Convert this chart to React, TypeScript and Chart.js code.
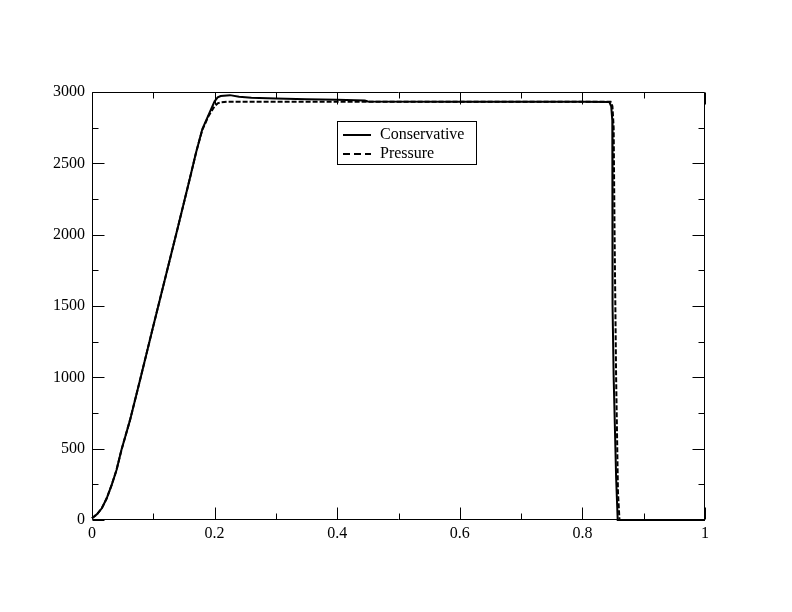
import React, { useEffect, useRef } from "react";
import { Chart, registerables } from "chart.js";

Chart.register(...registerables);

const consX = [0, 0.008, 0.016, 0.024, 0.032, 0.04, 0.048, 0.062, 0.08, 0.1, 0.12, 0.14, 0.16, 0.17, 0.18, 0.1925, 0.2, 0.205, 0.21, 0.225, 0.24, 0.26, 0.3, 0.35, 0.4, 0.445, 0.45, 0.6, 0.8, 0.844, 0.847, 0.8488, 0.8492, 0.851, 0.855, 0.8576, 0.9, 1];
const consY = [12, 40, 82, 152, 245, 350, 490, 700, 1010, 1360, 1705, 2050, 2400, 2580, 2740, 2862, 2935, 2962, 2972, 2978, 2967, 2960, 2955, 2950, 2945, 2940, 2933, 2932, 2932, 2930, 2900, 2800, 1500, 1000, 300, 0, 0, 0];

const presX = [0, 0.008, 0.016, 0.024, 0.032, 0.04, 0.048, 0.062, 0.08, 0.1, 0.12, 0.14, 0.16, 0.17, 0.18, 0.19, 0.2, 0.205, 0.21, 0.22, 0.4, 0.6, 0.8, 0.846, 0.849, 0.851, 0.8525, 0.855, 0.858, 0.8605, 0.9, 1];
const presY = [12, 40, 82, 152, 245, 350, 490, 700, 1010, 1360, 1705, 2050, 2400, 2580, 2735, 2830, 2900, 2920, 2928, 2932, 2932, 2932, 2932, 2932, 2900, 2750, 2000, 1000, 200, 0, 0, 0];

const seriesNames = ["Conservative", "Pressure"];
const xTicks = [0, 0.2, 0.4, 0.6, 0.8, 1];
const yTicks = [0, 500, 1000, 1500, 2000, 2500, 3000];

const FONT = "'Liberation Serif', 'Times New Roman', serif";

const framePlugin = {
  id: "frame",
  afterDraw(chart: any) {
    const { ctx, chartArea } = chart;
    const xs = chart.scales.x;
    const ys = chart.scales.y;
    const L = Math.round(chartArea.left) + 0.5;
    const R = Math.round(chartArea.right) - 0.5;
    const T = Math.round(chartArea.top) + 0.5;
    const B = Math.round(chartArea.bottom) - 0.5;
    ctx.save();
    ctx.strokeStyle = "#000";
    ctx.lineWidth = 1;
    ctx.setLineDash([]);
    ctx.beginPath();
    ctx.rect(L, T, R - L, B - T);
    for (let i = 0; i <= 10; i++) {
      const v = i / 10;
      const px = Math.round(xs.getPixelForValue(v)) + 0.5;
      const len = i % 2 === 0 ? 12 : 6;
      ctx.moveTo(px, B);
      ctx.lineTo(px, B - len);
      ctx.moveTo(px, T);
      ctx.lineTo(px, T + len);
    }
    for (let i = 0; i <= 12; i++) {
      const v = i * 250;
      const py = Math.round(ys.getPixelForValue(v)) + 0.5;
      const len = i % 2 === 0 ? 12 : 6;
      ctx.moveTo(L, py);
      ctx.lineTo(L + len, py);
      ctx.moveTo(R, py);
      ctx.lineTo(R - len, py);
    }
    ctx.stroke();

    // legend
    const bx = 337.5, by = 121.5, bw = 139, bh = 43;
    ctx.fillStyle = "#fff";
    ctx.fillRect(bx, by, bw, bh);
    ctx.strokeRect(bx, by, bw, bh);
    ctx.lineWidth = 2;
    ctx.beginPath();
    ctx.moveTo(343, 135);
    ctx.lineTo(371, 135);
    ctx.stroke();
    ctx.setLineDash([7, 4]);
    ctx.beginPath();
    ctx.moveTo(343, 154);
    ctx.lineTo(371, 154);
    ctx.stroke();
    ctx.setLineDash([]);
    ctx.fillStyle = "#000";
    ctx.font = "16px " + FONT;
    ctx.textBaseline = "middle";
    ctx.textAlign = "left";
    ctx.fillText(seriesNames[0], 380, 135);
    ctx.fillText(seriesNames[1], 380, 154);
    ctx.restore();
  },
};

export default function App() {
  const ref = useRef<HTMLCanvasElement>(null);
  useEffect(() => {
    if (!ref.current) return;
    const chart = new Chart(ref.current, {
      type: "line",
      data: {
        datasets: [
          {
            label: seriesNames[0],
            data: consX.map((x, i) => ({ x, y: consY[i] })),
            borderColor: "#000",
            borderWidth: 2,
            pointRadius: 0,
            tension: 0,
            fill: false,
            clip: 3,
          },
          {
            label: seriesNames[1],
            data: presX.map((x, i) => ({ x, y: presY[i] })),
            borderColor: "#000",
            borderWidth: 2,
            borderDash: [5, 2],
            pointRadius: 0,
            tension: 0,
            fill: false,
            clip: 3,
          },
        ],
      },
      plugins: [framePlugin],
      options: {
        animation: false,
        responsive: false,
        devicePixelRatio: 1,
        layout: { padding: { left: 0, right: 87, top: 92, bottom: 0 } },
        plugins: { legend: { display: false }, tooltip: { enabled: false } },
        scales: {
          x: {
            type: "linear",
            min: 0,
            max: 1,
            afterFit: (s: any) => { s.height = 92; },
            afterBuildTicks: (s: any) => { s.ticks = xTicks.map((v) => ({ value: v })); },
            grid: { display: false, drawTicks: false },
            border: { display: false },
            ticks: {
              color: "#000",
              font: { family: FONT, size: 16 },
              padding: 4,
              maxRotation: 0,
              callback: (v: any) => String(Math.round(Number(v) * 10) / 10),
            },
          },
          y: {
            type: "linear",
            min: 0,
            max: 3000,
            afterFit: (s: any) => { s.width = 92; },
            afterBuildTicks: (s: any) => { s.ticks = yTicks.map((v) => ({ value: v })); },
            grid: { display: false, drawTicks: false },
            border: { display: false },
            ticks: {
              color: "#000",
              font: { family: FONT, size: 16 },
              padding: 7,
              callback: (v: any) => String(v),
            },
          },
        },
      },
    });
    return () => chart.destroy();
  }, []);
  return (
    <div style={{ position: "absolute", left: 0, top: 0, width: 792, height: 612, background: "#fff" }}>
      <canvas ref={ref} width={792} height={612} />
    </div>
  );
}
